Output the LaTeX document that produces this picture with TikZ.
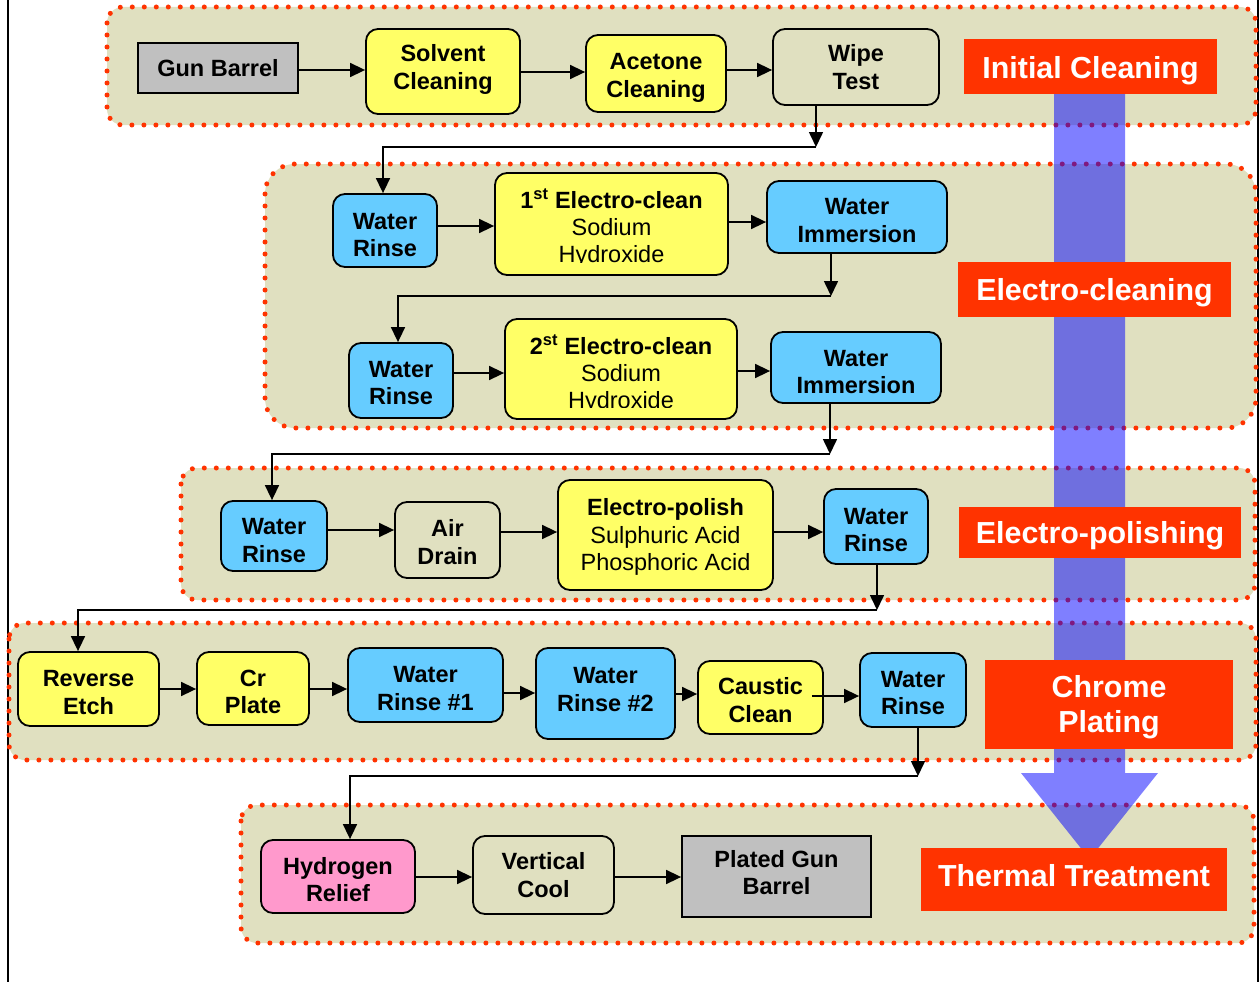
\documentclass[tikz,border=0pt]{standalone}
\usepackage{fontspec}
\setmainfont{Liberation Sans}
\usetikzlibrary{arrows.meta}
\definecolor{bandfill}{RGB}{224,224,192}
\definecolor{dotred}{RGB}{255,51,0}
\definecolor{labred}{RGB}{255,51,0}
\definecolor{boxblue}{RGB}{102,204,255}
\definecolor{boxyellow}{RGB}{255,255,102}
\definecolor{boxpink}{RGB}{255,153,204}
\definecolor{boxgray}{RGB}{192,192,192}
\newcommand\tdn[1]{\rule{0pt}{#1}}
\tikzset{
  band/.style={fill=bandfill, draw=dotred, line width=5pt, dash pattern=on 0pt off 12pt, line cap=round, rounded corners=#1},
  band/.default=16pt,
  pbox/.style={draw=black, line width=1.8pt, rounded corners=12pt, align=center, inner sep=0pt, font=\bfseries\fontsize{23.5}{27.3}\selectfont},
  bluebox/.style={pbox, fill=boxblue},
  yellowbox/.style={pbox, fill=boxyellow},
  plainbox/.style={pbox, fill=bandfill},
  pinkbox/.style={pbox, fill=boxpink},
  graybox/.style={pbox, fill=boxgray, rounded corners=0pt},
  boxtext/.style={align=center, inner sep=0pt, font=\bfseries\fontsize{23.5}{27.3}\selectfont},
  stagelabel/.style={fill=labred, text=white, align=center, inner sep=0pt, font=\bfseries\fontsize{30.4}{35}\selectfont},
  tdown/.style={execute at begin node={\rule{0pt}{#1}}},
  tup/.style={execute at end node={\rule[-#1]{0pt}{0pt}}},
  arr/.style={line width=1.6pt, -{Triangle[length=15pt,width=14pt]}},
  frameline/.style={line width=2pt, black},
  bigarrow/.style={fill={rgb,255:red,0;green,0;blue,255}, fill opacity=0.5},
}
\begin{document}
\begin{tikzpicture}[x=1pt, y=-1pt]
\useasboundingbox (0,0) rectangle (1259,982);
\fill[white] (0,0) rectangle (1259,982);
% frame lines
\draw[frameline] (8,0) -- (8,982);
\draw[frameline] (1258,0) -- (1258,982);
% bands
\path[band] (107,7) rectangle (1256,125);
\path[band=30pt] (265,164) rectangle (1256,428);
\path[band] (181,468) rectangle (1255,600);
\path[band] (9,623) rectangle (1256,760);
\path[band] (241,805) rectangle (1254,943);

% ---- Initial cleaning
\node[graybox, minimum width=160pt, minimum height=50pt] (gb) at (218,68) {Gun Barrel};
\node[yellowbox, tup=9pt, minimum width=154pt, minimum height=85pt] (sc) at (443,71.5) {Solvent\\Cleaning};
\node[yellowbox, minimum width=140pt, minimum height=77pt] (ac) at (656,73.5) {\tdn{25pt}Acetone\\Cleaning};
\node[plainbox, minimum width=166pt, minimum height=76pt] (wt) at (856,67) {Wipe\\Test};

% ---- Electro-cleaning
\node[bluebox, minimum width=104pt, minimum height=73pt] (wr1) at (385,230.5) {\tdn{25pt}Water\\Rinse};
\node[yellowbox, minimum width=233pt, minimum height=102pt] (ec1) at (611.5,224) {};
\begin{scope}
  \clip (495,173) rectangle (728,262);
  \node[boxtext] (ec1t) at (611.5,228) {1\textsuperscript{st} Electro-clean\\{\mdseries Sodium}\\{\mdseries Hydroxide}};
\end{scope}
\node[bluebox, minimum width=180pt, minimum height=72pt] (wi1) at (857,217) {\tdn{23pt}Water\\Immersion};
\node[bluebox, minimum width=104pt, minimum height=75pt] (wr2) at (401,380.5) {\tdn{21pt}Water\\Rinse};
\node[yellowbox, minimum width=232pt, minimum height=100pt] (ec2) at (621,369) {};
\begin{scope}
  \clip (505,319) rectangle (737,407.5);
  \node[boxtext] (ec2t) at (621,374) {2\textsuperscript{st} Electro-clean\\{\mdseries Sodium}\\{\mdseries Hydroxide}};
\end{scope}
\node[bluebox, minimum width=170pt, minimum height=71pt] (wi2) at (856,367.5) {\tdn{25pt}Water\\Immersion};

% ---- Electro-polishing
\node[bluebox, minimum width=106pt, minimum height=70pt] (wr3) at (274,536) {\tdn{25pt}Water\\Rinse};
\node[plainbox, minimum width=105pt, minimum height=76pt] (ad) at (447.5,540) {\tdn{21pt}Air\\Drain};
\node[yellowbox, minimum width=215pt, minimum height=110pt] (ep) at (665.5,535) {\tdn{21pt}Electro-polish\\{\mdseries Sulphuric Acid}\\{\mdseries Phosphoric Acid}};
\node[bluebox, minimum width=104pt, minimum height=75pt] (wr4) at (876,526.5) {\tdn{23pt}Water\\Rinse};

% ---- Chrome plating
\node[yellowbox, minimum width=141pt, minimum height=74pt] (re) at (88.5,689) {\tdn{23pt}Reverse\\Etch};
\node[yellowbox, minimum width=112pt, minimum height=73pt] (cr) at (253,688.5) {\tdn{23pt}Cr\\Plate};
\node[bluebox, minimum width=155pt, minimum height=74pt] (w1) at (425.5,685) {\tdn{23pt}Water\\Rinse \#1};
\node[bluebox, tup=8pt, minimum width=139pt, minimum height=91pt] (w2) at (605.5,693.5) {Water\\Rinse \#2};
\node[yellowbox, minimum width=125pt, minimum height=73pt] (cc) at (760.5,697.5) {\tdn{22pt}Caustic\\Clean};
\node[bluebox, minimum width=106pt, minimum height=74pt] (wr5) at (913,690) {\tdn{22pt}Water\\Rinse};

% ---- Thermal treatment
\node[pinkbox, minimum width=154pt, minimum height=73pt] (hr) at (338,876.5) {\tdn{23pt}Hydrogen\\Relief};
\node[plainbox, minimum width=141pt, minimum height=78pt] (vc) at (543.5,875) {Vertical\\Cool};
\node[graybox, tup=8pt, minimum width=189pt, minimum height=81pt] (pgb) at (776.5,876.5) {Plated Gun\\Barrel};

% ---- horizontal connectors
\draw[arr] (gb.east |- 0,70) -- (sc.west |- 0,70);
\draw[arr] (sc.east |- 0,72) -- (ac.west |- 0,72);
\draw[arr] (ac.east |- 0,70) -- (wt.west |- 0,70);
\draw[arr] (wr1.east |- 0,226) -- (ec1.west |- 0,226);
\draw[arr] (ec1.east |- 0,222) -- (wi1.west |- 0,222);
\draw[arr] (wr2.east |- 0,373) -- (ec2.west |- 0,373);
\draw[arr] (ec2.east |- 0,371) -- (wi2.west |- 0,371);
\draw[arr] (wr3.east |- 0,530) -- (ad.west |- 0,530);
\draw[arr] (ad.east |- 0,532) -- (ep.west |- 0,532);
\draw[arr] (ep.east |- 0,532) -- (wr4.west |- 0,532);
\draw[arr] (re.east |- 0,689) -- (cr.west |- 0,689);
\draw[arr] (cr.east |- 0,689) -- (w1.west |- 0,689);
\draw[arr] (w1.east |- 0,693) -- (w2.west |- 0,693);
\draw[arr] (w2.east |- 0,694) -- (cc.west |- 0,694);
\draw[arr] ([xshift=-12pt]cc.east |- 0,696) -- (wr5.west |- 0,696);
\draw[arr] (hr.east |- 0,877) -- (vc.west |- 0,877);
\draw[arr] (vc.east |- 0,877) -- (pgb.west |- 0,877);

% ---- elbow connectors between stages
\coordinate (k1) at (816,147);
\draw[arr] (wt.south -| k1) -- (k1);
\draw[arr] (k1) -| (wr1.north -| 383,0);
\coordinate (k2) at (831,296);
\draw[arr] (wi1.south -| k2) -- (k2);
\draw[arr] (k2) -| (wr2.north -| 398,0);
\coordinate (k3) at (830,454);
\draw[arr] (wi2.south -| k3) -- (k3);
\draw[arr] (k3) -| (wr3.north -| 272,0);
\coordinate (k4) at (877,610);
\draw[arr] (wr4.south -| k4) -- (k4);
\draw[arr] (k4) -| (re.north -| 78,0);
\coordinate (k5) at (918,776);
\draw[arr] (wr5.south -| k5) -- (k5);
\draw[arr] (k5) -| (hr.north -| 350,0);

% ---- big process arrow
\path[bigarrow] (1054,70) -- (1125,70) -- (1125,773) -- (1158,773) -- (1089.5,859) -- (1021,773) -- (1054,773) -- cycle;

% ---- stage labels
\node[stagelabel, tdown=30pt, minimum width=253pt, minimum height=55pt] (l1) at (1090.5,66.5) {Initial Cleaning};
\node[stagelabel, tdown=28pt, minimum width=273pt, minimum height=55pt] (l2) at (1094.5,289.5) {Electro-cleaning};
\node[stagelabel, tdown=28pt, minimum width=282pt, minimum height=51pt] (l3) at (1100,532.5) {Electro-polishing};
\node[stagelabel, minimum width=248pt, minimum height=89pt] (l4) at (1109,704.5) {\tdn{28pt}Chrome\\Plating};
\node[stagelabel, tup=8pt, minimum width=306pt, minimum height=63pt] (l5) at (1074,879.5) {Thermal Treatment};
\end{tikzpicture}
\end{document}
